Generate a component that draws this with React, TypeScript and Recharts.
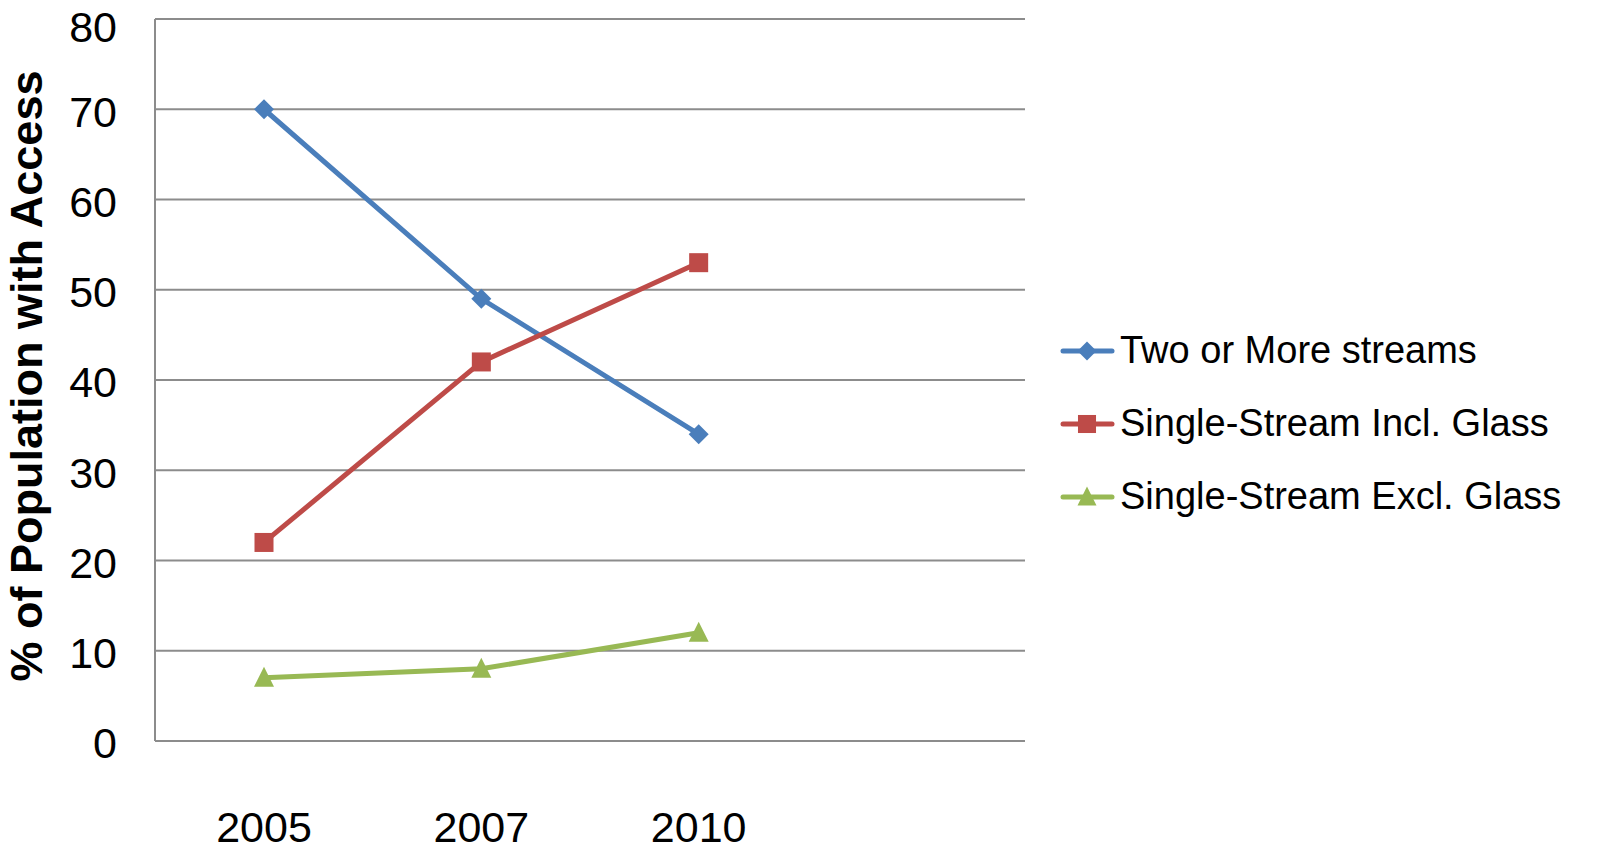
import React from "react";
import { CartesianGrid, Line, LineChart, XAxis, YAxis } from "recharts";

const YEARS = ["2005", "2007", "2010", ""];
const TWO_OR_MORE = [70, 49, 34, null];
const SINGLE_INCL = [22, 42, 53, null];
const SINGLE_EXCL = [7, 8, 12, null];
const Y_TICKS = [0, 10, 20, 30, 40, 50, 60, 70, 80];

const SERIES = [
  { key: "two", name: "Two or More streams", color: "#4a7ebb", shape: "diamond" },
  { key: "incl", name: "Single-Stream Incl. Glass", color: "#be4b48", shape: "square" },
  { key: "excl", name: "Single-Stream Excl. Glass", color: "#98b954", shape: "triangle" },
];

const data = YEARS.map((year, i) => ({
  year,
  two: TWO_OR_MORE[i],
  incl: SINGLE_INCL[i],
  excl: SINGLE_EXCL[i],
}));

const FONT = "'Liberation Sans', Arial, sans-serif";
const GRID = "#8c8c8c";

function Marker({ shape, color, cx, cy, s = 1 }: { shape: string; color: string; cx: number; cy: number; s?: number }) {
  if (shape === "diamond") {
    const r = 10 * s;
    return <polygon points={`${cx},${cy - r} ${cx + r},${cy} ${cx},${cy + r} ${cx - r},${cy}`} fill={color} />;
  }
  if (shape === "square") {
    const r = 9.5 * s;
    return <rect x={cx - r} y={cy - r} width={2 * r} height={2 * r} fill={color} />;
  }
  const w = 10 * s;
  return <polygon points={`${cx},${cy - 11 * s} ${cx + w},${cy + 9 * s} ${cx - w},${cy + 9 * s}`} fill={color} />;
}

function makeDot(shape: string, color: string) {
  return (props: any) => {
    const { cx, cy, index } = props;
    if (cx == null || cy == null || props.value == null) return <g key={`d-${index}`} />;
    return (
      <g key={`d-${index}`}>
        <Marker shape={shape} color={color} cx={cx} cy={cy} />
      </g>
    );
  };
}

function LegendBox() {
  return (
    <div style={{ position: "absolute", left: 1060, top: 314, fontFamily: FONT, fontSize: 38, color: "#000" }}>
      {SERIES.map((s) => (
        <div key={s.key} style={{ display: "flex", alignItems: "center", height: 73 }}>
          <svg width={56} height={24} style={{ marginRight: 4 }}>
            <line x1={3} y1={12} x2={52} y2={12} stroke={s.color} strokeWidth={5} strokeLinecap="round" />
            <Marker shape={s.shape} color={s.color} cx={27} cy={12} s={0.95} />
          </svg>
          <span style={{ whiteSpace: "pre" }}>{s.name}</span>
        </div>
      ))}
    </div>
  );
}

export default function App() {
  return (
    <div style={{ position: "absolute", left: 0, top: 0, width: 1597, height: 850, background: "#fff" }}>
      <LineChart width={1597} height={850} data={data} margin={{ top: 19, right: 572, bottom: 9, left: 0 }}>
        <CartesianGrid horizontal vertical={false} stroke={GRID} strokeWidth={2} />
        <XAxis
          dataKey="year"
          height={100}
          padding={{ left: 109, right: 109 }}
          tickLine={false}
          tickSize={0}
          tickMargin={70}
          axisLine={{ stroke: GRID, strokeWidth: 2 }}
          tick={{ fontFamily: FONT, fontSize: 43, fill: "#000" }}
          interval={0}
        />
        <YAxis
          width={155}
          domain={[0, 80]}
          ticks={Y_TICKS}
          tickLine={false}
          tickSize={0}
          tickMargin={38}
          axisLine={{ stroke: GRID, strokeWidth: 2 }}
          tick={{ fontFamily: FONT, fontSize: 43, fill: "#000", dy: 2 }}
          label={{
            content: () => (
              <text
                x={42}
                y={376}
                transform="rotate(-90, 42, 376)"
                textAnchor="middle"
                fontFamily={FONT}
                fontSize={45}
                fontWeight="bold"
                fill="#000"
              >
                % of Population with Access
              </text>
            ),
          }}
        />
        {SERIES.map((s) => (
          <Line
            key={s.key}
            dataKey={s.key}
            name={s.name}
            stroke={s.color}
            strokeWidth={5}
            dot={makeDot(s.shape, s.color)}
            activeDot={false}
            isAnimationActive={false}
            type="linear"
          />
        ))}
      </LineChart>
      <LegendBox />
    </div>
  );
}
